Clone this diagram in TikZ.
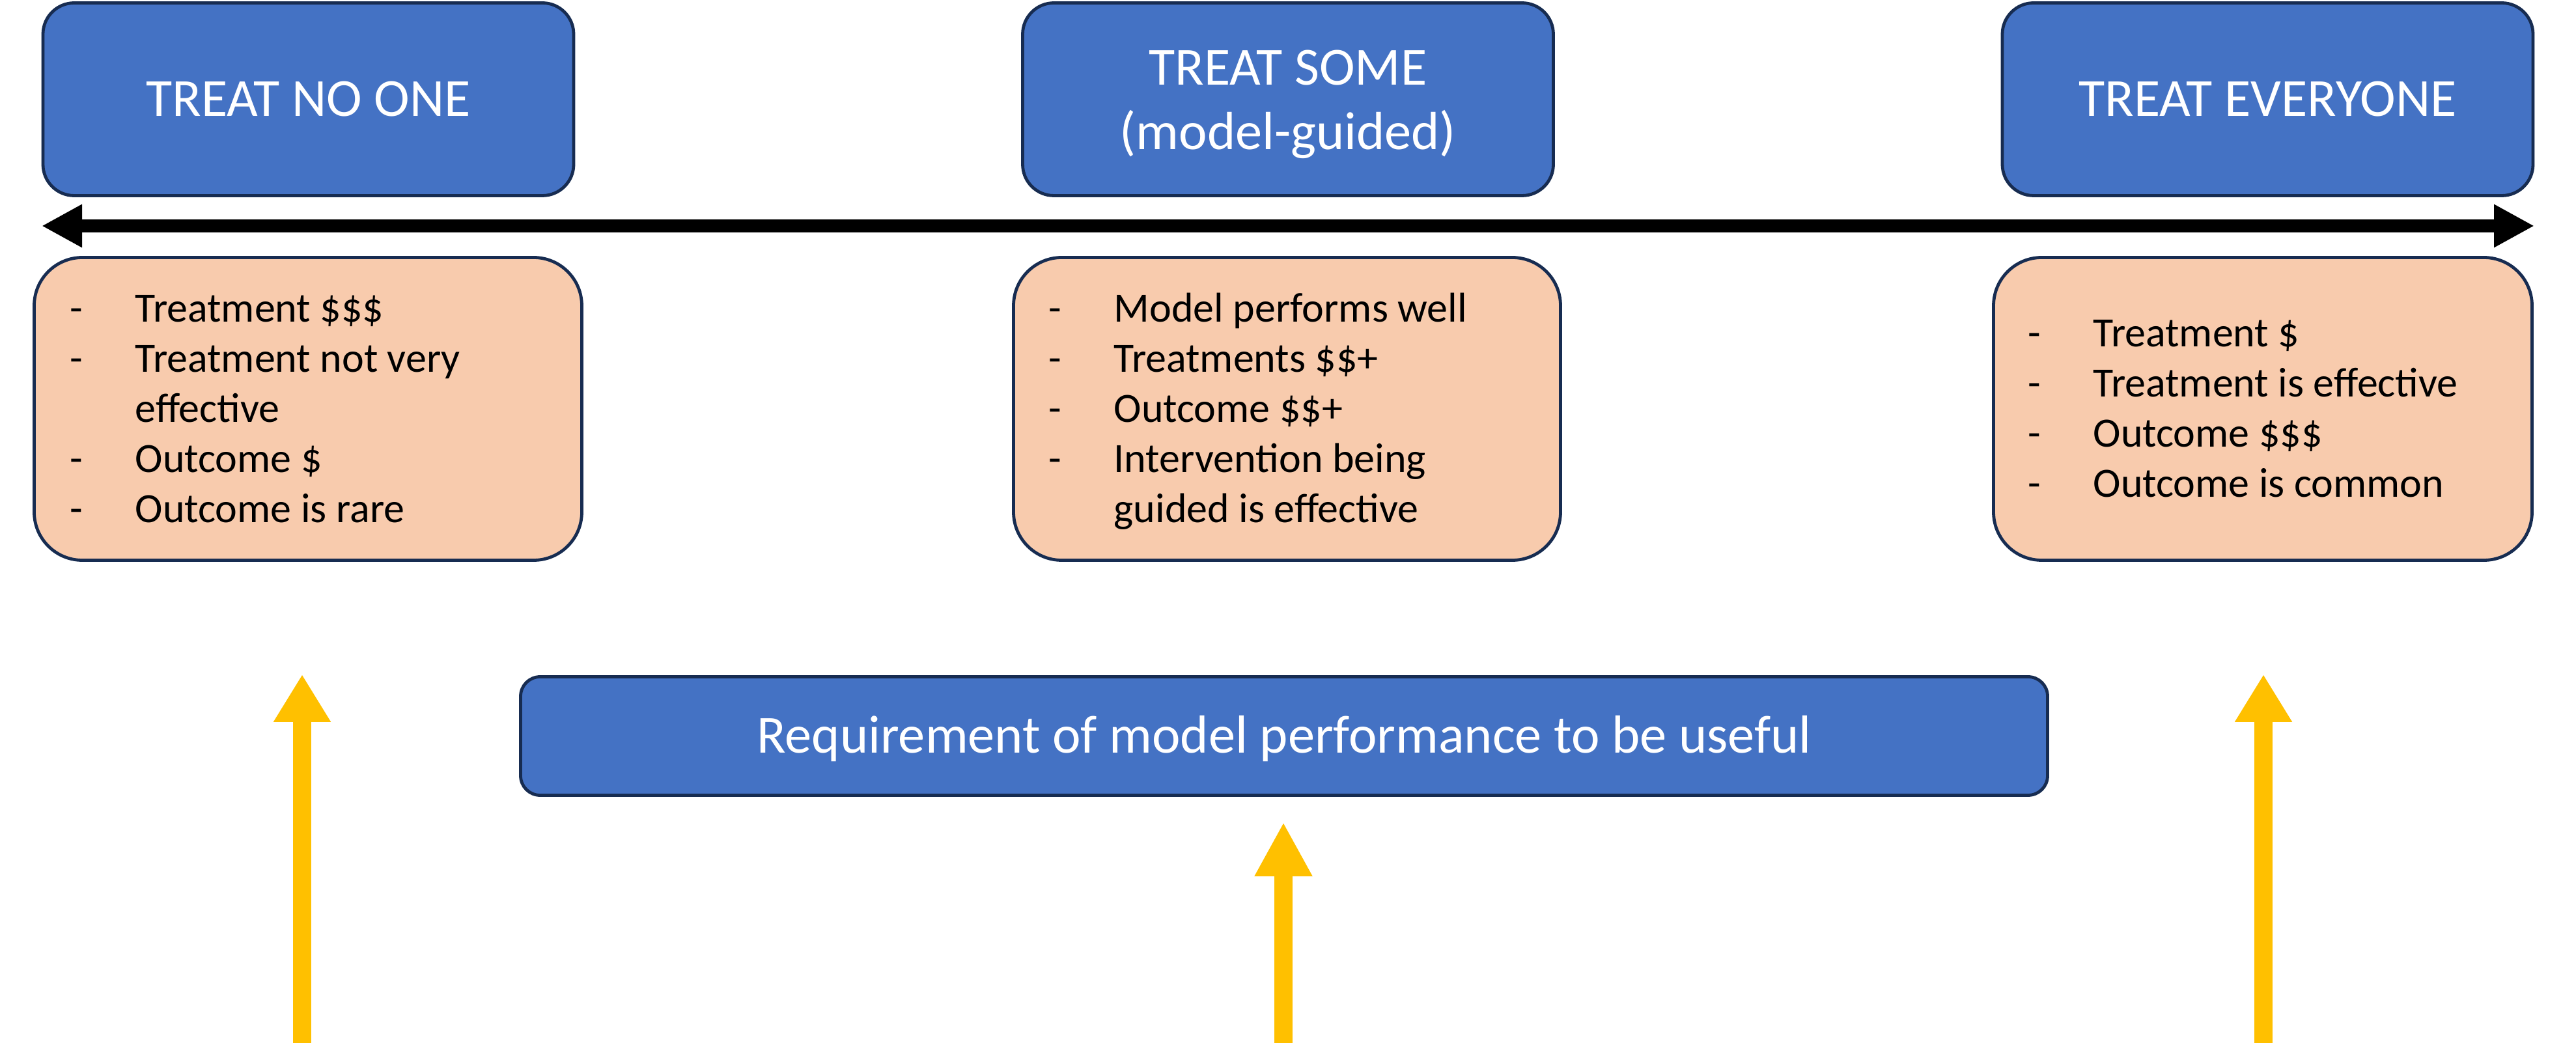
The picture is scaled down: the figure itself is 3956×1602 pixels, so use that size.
\documentclass[tikz,border=0pt]{standalone}
\usepackage{fontspec}
\setmainfont{Carlito}
\usetikzlibrary{arrows.meta}
\definecolor{boxblue}{HTML}{4472C4}
\definecolor{navy}{HTML}{172C51}
\definecolor{peach}{HTML}{F8CBAD}
\definecolor{gold}{HTML}{FFC000}
\newcommand{\dashitem}{\makebox[25pt][l]{-}}
\newcommand{\contitem}{\hspace*{25pt}}
\begin{document}
\begin{tikzpicture}[x=0.25pt,y=-0.25pt,
  bluebox/.style={draw=navy, line width=1.2pt, fill=boxblue, text=white,
    font=\fontsize{20.6}{24.75}\selectfont, align=center, inner sep=0pt},
  topbox/.style={bluebox, rounded corners=12pt, minimum width=203.75pt, minimum height=74pt},
  reqbox/.style={bluebox, rounded corners=7.5pt, minimum width=586.25pt, minimum height=45.5pt,
    text height=13.2pt, text depth=0pt},
  orangebox/.style={draw=navy, line width=1.2pt, fill=peach, rounded corners=18.5pt,
    minimum height=116.25pt, inner sep=0pt},
  listtext/.style={font=\fontsize{16}{19.2}\selectfont, inner sep=0pt, anchor=base west, align=left},
  bigarrow/.style={line width=5pt, {Triangle[length=15.5pt,width=15.5pt]}-{Triangle[length=15.5pt,width=15.5pt]}},
  goldarrow/.style={draw=gold, line width=7pt},
]
\useasboundingbox (0,0) rectangle (3956,1602);

% top boxes
\node[topbox] (none) at (473.5,152.5) {TREAT NO ONE};
\node[topbox] (some) at (1978,152.5) {\rule{0pt}{17.2pt}TREAT SOME\\(model-guided)};
\node[topbox] (all)  at (3482.5,152.5) {TREAT EVERYONE};

% double arrow
\coordinate (axL) at (64,347);
\coordinate (axR) at (3892,347);
\draw[bigarrow] (axL) -- (axR);

% orange boxes
\node[orangebox, minimum width=210.25pt] (o1) at (473,628) {};
\node[orangebox, minimum width=210pt] (o2) at (1976.5,628) {};
\node[orangebox, minimum width=206.75pt] (o3) at (3475,628) {};

\node[listtext] (t1) at (107,495) {\begin{tabular}[t]{@{}l@{}}
\dashitem Treatment \$\$\$\\
\dashitem Treatment not very\\
\contitem effective\\
\dashitem Outcome \$\\
\dashitem Outcome is rare
\end{tabular}};
\node[listtext] (t2) at (1610,495) {\begin{tabular}[t]{@{}l@{}}
\dashitem Model performs well\\
\dashitem Treatments \$\$+\\
\dashitem Outcome \$\$+\\
\dashitem Intervention being\\
\contitem guided is effective
\end{tabular}};
\node[listtext] (t3) at (3114,533) {\begin{tabular}[t]{@{}l@{}}
\dashitem Treatment \$\\
\dashitem Treatment is effective\\
\dashitem Outcome \$\$\$\\
\dashitem Outcome is common
\end{tabular}};

% requirement box
\node[reqbox] (req) at (1972,1130.5) {Requirement of model performance to be useful};

% yellow arrows
\coordinate (y1b) at (464,1602);  \coordinate (y1t) at (464,1036);
\coordinate (y2b) at (1971,1602); \coordinate (y2t) at (1971,1263);
\coordinate (y3b) at (3476,1602); \coordinate (y3t) at (3476,1036);
\draw[goldarrow, -{Triangle[length=18.25pt,width=20.75pt]}] (y1b) -- (y1t);
\draw[goldarrow, -{Triangle[length=20.75pt,width=20.75pt]}] (y2b) -- (y2t);
\draw[goldarrow, -{Triangle[length=18.25pt,width=20.75pt]}] (y3b) -- (y3t);
\end{tikzpicture}
\end{document}
